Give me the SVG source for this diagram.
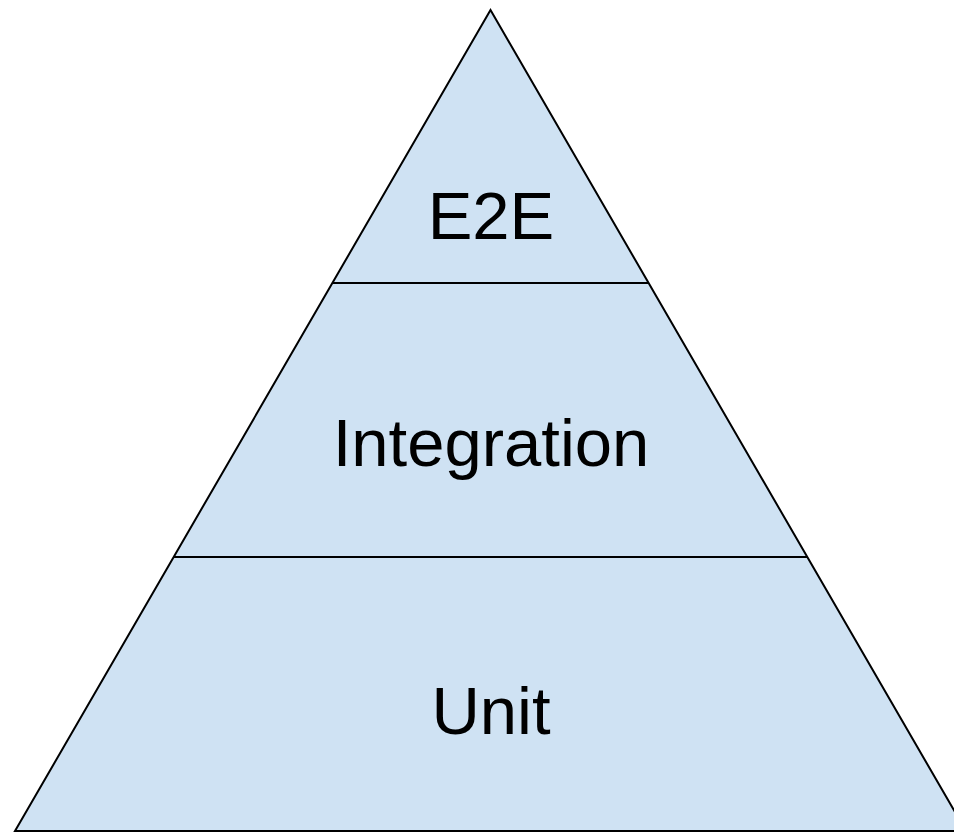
<svg xmlns="http://www.w3.org/2000/svg" width="954" height="833" viewBox="0 0 954 833">
<style>
.t{font-family:"Liberation Sans",Arial,sans-serif;font-size:67px;fill:#000;text-anchor:middle}
.s{fill:#cfe2f3;stroke:#000;stroke-width:2;stroke-linejoin:miter}
.l{stroke:#000;stroke-width:2;fill:none}
</style>
<rect width="954" height="833" fill="#fff"/>
<g id="pyramid">
<polygon class="s" points="490.5,10 15,831 966,831"/>
</g>
<g id="connectors">
<line class="l" x1="332" y1="283" x2="649" y2="283"/>
<line class="l" x1="174" y1="557" x2="807" y2="557"/>
</g>
<g id="e2e"><text class="t" x="491" y="239">E2E</text></g>
<g id="integration"><text class="t" x="491" y="466">Integration</text></g>
<g id="unit"><text class="t" x="491" y="734">Unit</text></g>
</svg>
